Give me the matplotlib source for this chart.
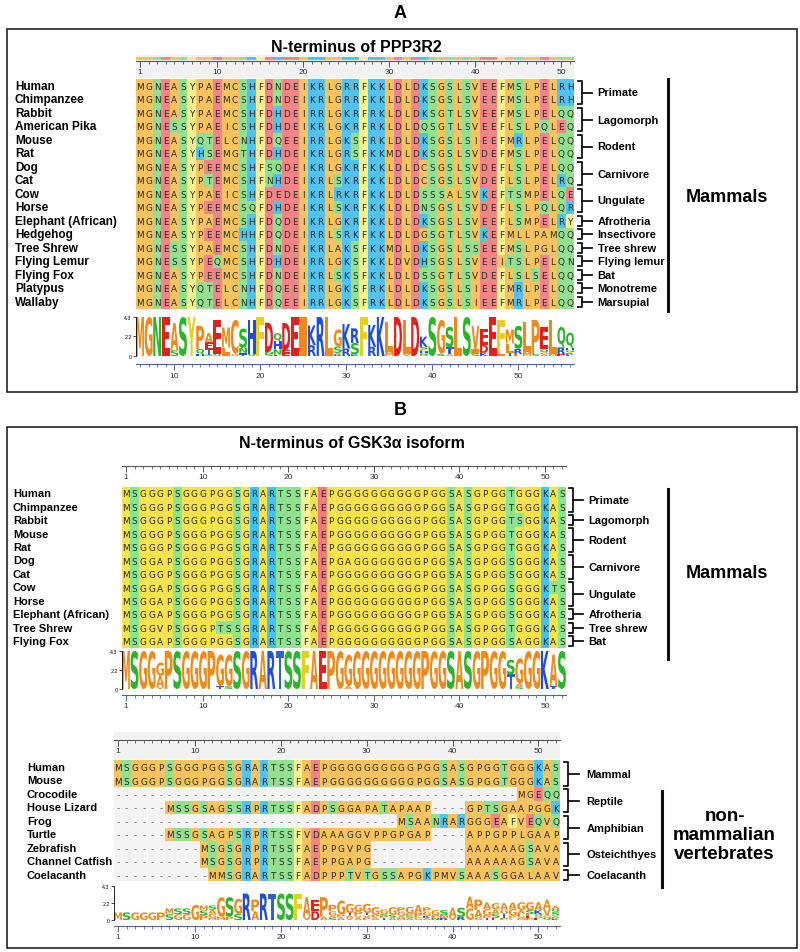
import numpy as np
import matplotlib
matplotlib.use('Agg')
import matplotlib.pyplot as plt
from matplotlib.patches import Rectangle, PathPatch
from matplotlib.textpath import TextPath
from matplotlib.font_manager import FontProperties
from matplotlib.transforms import Affine2D
from collections import Counter

plt.rcParams['font.family'] = ['Liberation Sans', 'DejaVu Sans']

# ---------------- panel A: PPP3R2 ----------------
a_species = ['Human', 'Chimpanzee', 'Rabbit', 'American Pika', 'Mouse', 'Rat', 'Dog', 'Cat',
             'Cow', 'Horse', 'Elephant (African)', 'Hedgehog', 'Tree Shrew', 'Flying Lemur',
             'Flying Fox', 'Platypus', 'Wallaby']
a_seqs = ['MGNEASYPAEMCSHFDNDEIKRLGRRFKKLDLDKSGSLSVEEFMSLPELRH',
          'MGNEASYPAEMCSHFDNDEIKRLGRRFKKLDLDKSGSLSVEEFMSLPELRH',
          'MGNEASYPAEMCSHFDHDEIRRLGKRFRKLDLDKSGTLSVEEFMSLPELQQ',
          'MGNESSYPAEICSHFDHDEIKRLGKRFRKLDLDQSGTLSVEEFLSLPQLEQ',
          'MGNEASYQTELCNHFDQEEIRRLGKSFRKLDLDKSGSLSIEEFMRLPELQQ',
          'MGNEASYHSEMGTHFDHDEIKRLGRSFKKMDLDKSGSLSVDEFMSLPELQQ',
          'MGNEASYPEEMCSHFSQDEIKRLGKRFKKLDLDCSGSLSVDEFLSLPELQQ',
          'MGNEASYPTEMCSHFNHDEIKRLSKRFKKLDLDCSGSLSVDEFLSLPELRQ',
          'MGNEASYPAEICSHFDEDEIKRLRKRFKKLDLDSSSALSVKEFTSMPELQE',
          'MGNEASYPEEMCSQFDHDEIKRLSKRFKKLDLDNSGSLSVDEFLSLPQLQR',
          'MGNEASYPAEMCSHFDQDEIKRLGKRFKKLDLDKSGSLSVEEFLSMPELRY',
          'MGNEASYPEEMCHHFDQDEIRRLSRKFKKLDLDGSGTLSVKEFMLLPAMQQ',
          'MGNESSYPAEMCSHFDNDEIKRLAKSFKKMDLDKSGSLSSEEFMSLPGLQQ',
          'MGNESSYPEQMCSHFDHDEIRRLGKSFKKLDVDHSGSLSVEEITSLPELQN',
          'MGNEASYPEEMCSHFDNDEIKRLSKSFKKLDLDSSGTLSVDEFLSLSELQQ',
          'MGNEASYQTELCNHFDQEEIRRLGKSFRKLDLDKSGSLSIEEFMRLPELQQ',
          'MGNEASYQTELCNHFDQEEIRRLGKSFRKLDLDKSGSLSIEEFMRLPELQQ']
a_groups = [('Primate', 0, 1), ('Lagomorph', 2, 3), ('Rodent', 4, 5), ('Carnivore', 6, 7),
            ('Ungulate', 8, 9), ('Afrotheria', 10, 10), ('Insectivore', 11, 11),
            ('Tree shrew', 12, 12), ('Flying lemur', 13, 13), ('Bat', 14, 14),
            ('Monotreme', 15, 15), ('Marsupial', 16, 16)]
a_logo_ticks = [10, 20, 30, 40, 50]
a_logo_shift = 5   # the logo ruler in the original is offset from the columns

# ---------------- panel B: GSK3a, mammals ----------------
b1_species = ['Human', 'Chimpanzee', 'Rabbit', 'Mouse', 'Rat', 'Dog', 'Cat', 'Cow', 'Horse',
              'Elephant (African)', 'Tree Shrew', 'Flying Fox']
b1_seqs = ['MSGGGPSGGGPGGSGRARTSSFAEPGGGGGGGGGGPGGSASGPGGTGGGKAS',
           'MSGGGPSGGGPGGSGRARTSSFAEPGGGGGGGGGGPGGSASGPGGTGGGKAS',
           'MSGGGPSGGGPGGSGRARTSSFAEPGGGGGGGGGGPGGSASGPGGTSGGKAS',
           'MSGGGPSGGGPGGSGRARTSSFAEPGGGGGGGGGGPGGSASGPGGTGGGKAS',
           'MSGGGPSGGGPGGSGRARTSSFAEPGGGGGGGGGGPGGSASGPGGTGGGKAS',
           'MSGGAPSGGGPGGSGRARTSSFAEPGAGGGGGGGGPGGSASGPGGSGGGKAS',
           'MSGGGPSGGGPGGSGRARTSSFAEPGGGGGGGGGGPGGSASGPGGSGGGKAS',
           'MSGGAPSGGGPGGSGRARTSSFAEPGGGGGGGGGGPGGSASGPGGSGGGKTS',
           'MSGGAPSGGGPGGSGRARTSSFAEPGGGGGGGGGGPGGSASGPGGSGGGKAS',
           'MSGGAPSGGGPGGSGRARTSSFAEPGGGGGGGGGGPGGSASGPGGSGGGKAS',
           'MSGGVPSGGGPTSSGRARTSSFAEPGGGGGGGGGGPGGSASGPGGTGGGKAS',
           'MSGGAPSGGGPGGSGRARTSSFAEPGGGGGGGGGGPGGSASGPGGSAGGKAS']
b1_groups = [('Primate', 0, 1), ('Lagomorph', 2, 2), ('Rodent', 3, 4), ('Carnivore', 5, 6),
             ('Ungulate', 7, 8), ('Afrotheria', 9, 9), ('Tree shrew', 10, 10), ('Bat', 11, 11)]

# ---------------- panel B: GSK3a, other vertebrates ----------------
b2_species = ['Human', 'Mouse', 'Crocodile', 'House Lizard', 'Frog', 'Turtle', 'Zebrafish',
              'Channel Catfish', 'Coelacanth']
b2_seqs = ['MSGGGPSGGGPGGSGRARTSSFAEPGGGGGGGGGGPGGSASGPGGTGGGKAS',
           'MSGGGPSGGGPGGSGRARTSSFAEPGGGGGGGGGGPGGSASGPGGTGGGKAS',
           '-----------------------------------------------MGEQQ',
           '------MSSGSAGSSRPRTSSFADPSGGAPATAPAAP----GPTSGAAPGGK',
           '---------------------------------MSAANRARGGGEAFVEQVQ',
           '------MSSGSAGPSRPRTSSFVDAAAGGVPPGPGAP----APPGPPLGAAP',
           '----------MSGSGRPRTSSFAEPPGVPG-----------AAAAAAGSAVA',
           '----------MSGSGRPRTSSFAEPPGAPG-----------AAAAAAGSAVA',
           '-----------MMSGRARTSSFADPPPTVTGSSAPGKPMVSAAASGGALAAV']
b2_groups = [('Mammal', 0, 1), ('Reptile', 2, 3), ('Amphibian', 4, 5),
             ('Osteichthyes', 6, 7), ('Coelacanth', 8, 8)]
ruler_labels = [1, 10, 20, 30, 40, 50]


def make_scheme(hyd, pol, bas, aci, aro):
    sch = {}
    for aa in 'AVLIMPCGW':
        sch[aa] = hyd
    for aa in 'STNQ':
        sch[aa] = pol
    for aa in 'KRH':
        sch[aa] = bas
    for aa in 'DE':
        sch[aa] = aci
    for aa in 'FY':
        sch[aa] = aro
    return sch


orange_scheme = make_scheme('#F6C35E', '#93E190', '#52C3EF', '#F28686', '#F6EF8E')
yellow_scheme = make_scheme('#F6E24C', '#8FE38F', '#3FC4F2', '#F27B7B', '#F8F3A2')
logo_scheme = make_scheme('#EE8A1C', '#2BB52B', '#1F4FD8', '#E4201C', '#E6CF1E')
logo_scheme['T'] = '#2F5FD0'

W, H = 800, 953
fig = plt.figure(figsize=(8, 9.53), dpi=100)
bg = fig.add_axes([0, 0, 1, 1])
bg.set_xlim(0, W)
bg.set_ylim(H, 0)
bg.axis('off')


def px_axes(x0, y0, x1, y1):
    return fig.add_axes([x0 / W, 1 - y1 / H, (x1 - x0) / W, (y1 - y0) / H])


def bare(ax):
    for sp in ax.spines.values():
        sp.set_visible(False)
    ax.set_xticks([])
    ax.set_yticks([])


def draw_alignment(seqs, species, left, top, cw, rh, scheme, lab_x, fs_lab=8):
    ncol = max(len(s) for s in seqs)
    nrow = len(seqs)
    ax = px_axes(left, top, left + ncol * cw, top + nrow * rh)
    ax.set_xlim(0.5, ncol + 0.5)
    ax.set_ylim(nrow, 0)
    bare(ax)
    ax.set_facecolor('#F3F3F3')
    for i, s in enumerate(seqs):
        for j, ch in enumerate(s):
            if ch in scheme:
                ax.add_patch(Rectangle((j + 0.5, i), 1, 1, fc=scheme[ch], ec='none'))
            ax.text(j + 1, i + 0.55, ch, ha='center', va='center', fontsize=6.4,
                    family='DejaVu Sans', color='#2a2a2a' if ch != '-' else '#666666')
        ax.text(0.5 - (left - lab_x) / cw, i + 0.5, species[i], ha='left', va='center',
                fontsize=fs_lab, fontweight='bold', clip_on=False)
    return ax, ncol, nrow


def draw_groups(ax, groups, ncol, x_br, x_lab, fs=8):
    e = ncol + 0.5
    for name, r0, r1 in groups:
        top, bot = r0 + 0.12, r1 + 0.88
        mid = (top + bot) / 2
        xb = e + x_br
        ax.plot([xb, xb + 0.5, xb + 0.5, xb], [top, top, bot, bot], color='#111111',
                lw=1.3, clip_on=False)
        ax.plot([xb + 0.5, xb + 1.7], [mid, mid], color='#111111', lw=1.3, clip_on=False)
        ax.text(e + x_lab, mid, name, ha='left', va='center', fontsize=fs,
                fontweight='bold', clip_on=False)


def side_label(ax, ncol, x_line, r0, r1, x_text, r_text, text, fs=13):
    e = ncol + 0.5
    ax.plot([e + x_line, e + x_line], [r0, r1], color='#111111', lw=2.2, clip_on=False)
    ax.text(e + x_text, r_text, text, ha='center', va='center', fontsize=fs,
            fontweight='bold', linespacing=1.15, clip_on=False)


def draw_ruler(seqs, left, cw, y0, y1, scheme=None, bgc='#F2F2F2'):
    ncol = max(len(s) for s in seqs)
    ax = px_axes(left, y0, left + ncol * cw, y1)
    ax.set_xlim(0.5, ncol + 0.5)
    ax.set_ylim(0, 1)
    ax.set_facecolor(bgc)
    for k in ['left', 'right', 'top']:
        ax.spines[k].set_visible(False)
    ax.spines['bottom'].set_position(('axes', 0.72))
    ax.spines['bottom'].set_color('#555555')
    ax.spines['bottom'].set_linewidth(0.8)
    ax.set_yticks([])
    ax.set_xticks(ruler_labels)
    ax.set_xticks(np.arange(1, ncol + 1), minor=True)
    ax.tick_params(axis='x', which='major', length=4, width=0.7, labelsize=6, pad=1,
                   color='#555555', labelcolor='#333333')
    ax.tick_params(axis='x', which='minor', length=2.2, width=0.6, color='#555555')
    if scheme is not None:
        for j in range(ncol):
            cons = Counter(s[j] for s in seqs).most_common(1)[0][0]
            ax.add_patch(Rectangle((j + 0.5, 0.78), 1, 0.12, fc=scheme.get(cons, '#ddd'),
                                   ec='none'))
    return ax


logo_font = FontProperties(family='DejaVu Sans', weight='bold')


def draw_letter(ax, ch, x, y, w, h, color):
    tp = TextPath((0, 0), ch, size=1, prop=logo_font)
    bb = tp.get_extents()
    tr = Affine2D().translate(-bb.x0, -bb.y0).scale(w / bb.width, h / bb.height).translate(x, y)
    ax.add_patch(PathPatch(tr.transform_path(tp), fc=color, ec='none'))


def draw_logo(seqs, left, cw, y0, y1, tick_pos, tick_lab, out=4):
    ncol = max(len(s) for s in seqs)
    n = len(seqs)
    ax = px_axes(left, y0, left + ncol * cw, y1)
    ymax = np.log2(20)
    ax.set_xlim(0.5, ncol + 0.5)
    ax.set_ylim(0, ymax)
    for j in range(ncol):
        col = [s[j] for s in seqs if s[j] != '-']
        if not col:
            continue
        m = len(col)
        freq = {k: v / m for k, v in Counter(col).items()}
        ent = -sum(p * np.log2(p) for p in freq.values())
        ic = (ymax - ent) * m / n
        y = 0
        for k, p in sorted(freq.items(), key=lambda kv: kv[1]):
            h = p * ic
            if h > 0.02:
                draw_letter(ax, k, j + 1 - 0.46, y, 0.92, h, logo_scheme.get(k, '#888'))
            y += h
    ax.spines['top'].set_visible(False)
    ax.spines['right'].set_visible(False)
    ax.spines['left'].set_linewidth(0.6)
    ax.spines['bottom'].set_position(('outward', out))
    ax.spines['bottom'].set_color('#4A6890')
    ax.set_yticks([0, 2.2, 4.3])
    ax.set_yticklabels(['0', '2.2', '4.3'])
    ax.tick_params(axis='y', length=2, width=0.5, labelsize=3.8, pad=1)
    ax.set_xticks(tick_pos)
    ax.set_xticklabels([str(t) for t in tick_lab])
    ax.set_xticks(np.arange(1, ncol + 1), minor=True)
    ax.tick_params(axis='x', which='major', length=4, width=0.7, labelsize=6, pad=1.5,
                   color='#4A6890', labelcolor='#333333')
    ax.tick_params(axis='x', which='minor', length=2.2, width=0.6, color='#4A6890')
    return ax


# ---------------- frames and titles ----------------
bg.add_patch(Rectangle((7, 30), 790, 363, fill=False, ec='#222222', lw=1.2))
bg.add_patch(Rectangle((7, 428), 790, 521, fill=False, ec='#222222', lw=1.2))
bg.text(400, 13, 'A', ha='center', va='center', fontsize=13, fontweight='bold')
bg.text(400, 411, 'B', ha='center', va='center', fontsize=13, fontweight='bold')
bg.text(356, 47, 'N-terminus of PPP3R2', ha='center', va='center', fontsize=11.5,
        fontweight='bold')
bg.text(352, 444, 'N-terminus of GSK3\u03b1 isoform', ha='center', va='center',
        fontsize=11.5, fontweight='bold')

# ---------------- panel A ----------------
a_left, a_cw = 135.7, 8.6
draw_ruler(a_seqs, a_left, a_cw, 56, 79, scheme=orange_scheme)
ax_a, nc, nr = draw_alignment(a_seqs, a_species, a_left, 80, a_cw, 13.5, orange_scheme, 15,
                              fs_lab=8.5)
draw_groups(ax_a, a_groups, nc, 0.4, 2.7)
side_label(ax_a, nc, 10.9, 0.0, 17.2, 17.8, 8.7, 'Mammals')
draw_logo(a_seqs, a_left, a_cw, 318, 357,
          [t - a_logo_shift for t in a_logo_ticks], a_logo_ticks, out=6)

# ---------------- panel B, mammals ----------------
b1_left, b1_cw = 121.7, 8.55
draw_ruler(b1_seqs, b1_left, b1_cw, 460, 486, bgc='white')
ax_b1, nc, nr = draw_alignment(b1_seqs, b1_species, b1_left, 487.5, b1_cw, 13.45,
                               yellow_scheme, 13)
draw_groups(ax_b1, b1_groups, nc, 0.3, 2.6)
side_label(ax_b1, nc, 11.9, 0.2, 12.8, 18.8, 6.4, 'Mammals')
draw_logo(b1_seqs, b1_left, b1_cw, 652, 690, ruler_labels, ruler_labels)

# ---------------- panel B, other vertebrates ----------------
b2_left, b2_cw = 113.7, 8.58
draw_ruler(b2_seqs, b2_left, b2_cw, 733, 760)
ax_b2, nc, nr = draw_alignment(b2_seqs, b2_species, b2_left, 761.3, b2_cw, 13.45,
                               orange_scheme, 27)
draw_groups(ax_b2, b2_groups, nc, 0.5, 3.1)
side_label(ax_b2, nc, 11.9, 2.3, 9.4, 19.2, 5.5, 'non-\nmammalian\nvertebrates', fs=13.5)
draw_logo(b2_seqs, b2_left, b2_cw, 887, 921, ruler_labels, ruler_labels)

fig.savefig('out.png', dpi=100)
